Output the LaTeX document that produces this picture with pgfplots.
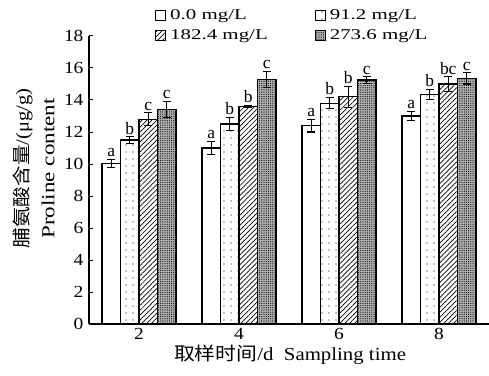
\documentclass[border=0pt]{standalone}
\usepackage{fontspec}
\setmainfont{Liberation Serif}
\newfontfamily\cjk{Noto Sans CJK SC}
\usepackage{graphicx}
\usepackage{pgfplots}
\pgfplotsset{compat=1.18}
\usepackage{pgfplotstable}
\usetikzlibrary{patterns.meta}
\newcommand{\wtxt}[1]{\scalebox{1.4}[1]{#1}}

\pgfplotstableread{
x y err lab
2 10.05 0.25 a
4 11.0 0.4 a
6 12.4 0.4 a
8 13.0 0.3 a
}\ga
\pgfplotstableread{
x y err lab
2 11.5 0.2 b
4 12.5 0.4 b
6 13.8 0.35 b
8 14.35 0.3 b
}\gb
\pgfplotstableread{
x y err lab
2 12.8 0.4 c
4 13.6 0.05 b
6 14.2 0.65 b
8 15.0 0.45 bc
}\gc
\pgfplotstableread{
x y err lab
2 13.4 0.5 c
4 15.3 0.5 c
6 15.25 0.2 c
8 15.35 0.35 c
}\gd

\begin{document}
\begin{tikzpicture}
\begin{axis}[
  scale only axis, width=400bp, height=288bp,
  xmin=1, xmax=9, ymin=0, ymax=18,
  axis x line=bottom, axis y line=left,
  axis line style={-, line width=1.2bp},
  ybar=0pt, bar width=18.5bp,
  xtick={2,4,6,8},
  ytick={0,2,...,18},
  tick align=inside,
  major tick length=4bp,
  x tick style={draw=none},
  extra x ticks={3,5,7}, extra x tick labels={},
  extra x tick style={tick style={draw=black, line width=1bp}, major tick length=5bp},
  y tick style={line width=1bp, black},
  xticklabel={\scalebox{1.15}[1]{\pgfmathprintnumber[assume math mode=true]{\tick}}},
  yticklabel={\scalebox{1.15}[1]{\pgfmathprintnumber[assume math mode=true]{\tick}}},
  tick label style={font=\fontsize{17}{17}\selectfont},
  yticklabel style={xshift=-2bp},
  xticklabel style={yshift=-1bp},
  ylabel={\scalebox{1.12}[1]{{\cjk 脯氨酸含量}/(μg/g)}\\\scalebox{1.25}[1]{Proline content}},
  ylabel style={at={(axis description cs:-0.138,0.54)}, anchor=center, align=center, font=\fontsize{18.5}{26}\selectfont},
  xlabel={\scalebox{1.13}[1]{{\cjk 取样时间}/d\ \ Sampling time}},
  xlabel style={at={(axis description cs:0.5025,-0.108)}, anchor=center, font=\fontsize{18.5}{20}\selectfont},
  legend columns=2,
  legend cell align=left,
  legend style={at={(rel axis cs:0.165,1.1)}, anchor=north west, draw=none, fill=none,
    font=\fontsize{15}{15}\selectfont, inner sep=0pt,
    /tikz/every even column/.append style={column sep=45bp},
    /tikz/every odd column/.append style={column sep=2bp},
    row sep=5bp},
  legend image code/.code={\draw[#1, line width=1bp] (0bp,-5bp) rectangle (10bp,5bp);},
  nodes near coords,
  point meta=explicit symbolic,
  visualization depends on={\thisrow{err} \as \err},
  every node near coord/.append style={font=\fontsize{17.5}{17.5}\selectfont, inner sep=0pt, anchor=south, yshift=\err*16bp+2bp, black},
  clip=false,
]
\addplot[draw=black, fill=white, line width=1.2bp,
  error bars/.cd, y dir=both, y explicit,
  error bar style={line width=1.2bp, black},
  error mark options={rotate=90, mark size=4bp, line width=1.2bp, black}]
  table[x=x, y=y, y error=err, meta=lab]{\ga};
\addplot[draw=black, fill=white, line width=1.2bp,
  postaction={pattern={Dots[distance=7bp, radius=0.7bp]}},
  error bars/.cd, y dir=both, y explicit,
  error bar style={line width=1.2bp, black},
  error mark options={rotate=90, mark size=4bp, line width=1.2bp, black}]
  table[x=x, y=y, y error=err, meta=lab]{\gb};
\addplot[draw=black, fill=white, line width=1.2bp,
  postaction={pattern={Lines[angle=45, distance=3.5bp, line width=0.7bp]}},
  error bars/.cd, y dir=both, y explicit,
  error bar style={line width=1.2bp, black},
  error mark options={rotate=90, mark size=4bp, line width=1.2bp, black}]
  table[x=x, y=y, y error=err, meta=lab]{\gc};
\addplot[draw=black, fill=gray!60, line width=1.2bp,
  postaction={pattern={Dots[distance=2.2bp, radius=0.6bp]}},
  error bars/.cd, y dir=both, y explicit,
  error bar style={line width=1.2bp, black},
  error mark options={rotate=90, mark size=4bp, line width=1.2bp, black}]
  table[x=x, y=y, y error=err, meta=lab]{\gd};
\legend{\wtxt{0.0 mg/L}, \wtxt{91.2 mg/L}, \wtxt{182.4 mg/L}, \wtxt{273.6 mg/L}}
\end{axis}
\pgfresetboundingbox
\path (current axis.south west) ++(-89bp,-52bp) rectangle ++(489bp,376bp);
\end{tikzpicture}
\end{document}
